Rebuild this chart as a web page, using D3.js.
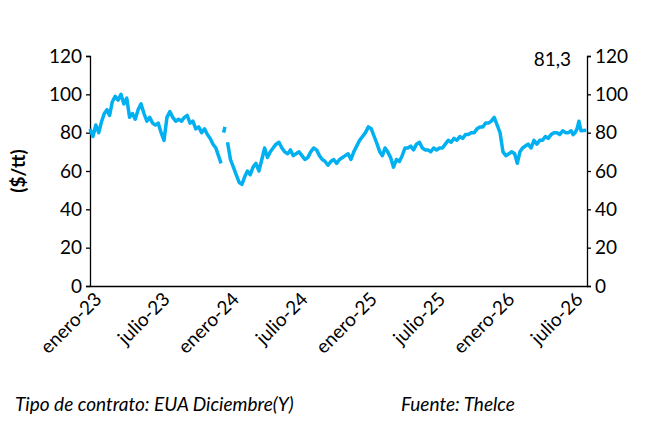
<!DOCTYPE html><html><head><meta charset="utf-8">
<script src="https://cdn.jsdelivr.net/npm/d3@7"></script>
<style>body{margin:0;background:#fff}text{font-family:Lato,"Open Sans",sans-serif}</style></head><body>
<svg id="c" width="656" height="424"></svg>
<script>
const months=["2023-01","2023-02","2023-03","2023-04","2023-05","2023-06","2023-07","2023-08","2023-09","2023-10","2023-11","2023-12",
"2024-01","2024-02","2024-03","2024-04","2024-05","2024-06","2024-07","2024-08","2024-09","2024-10","2024-11","2024-12",
"2025-01","2025-02","2025-03","2025-04","2025-05","2025-06","2025-07","2025-08","2025-09","2025-10","2025-11","2025-12",
"2026-01","2026-02","2026-03","2026-04","2026-05","2026-06","2026-07","2026-08"];
const values=[
[82,78,84,80],[86,90,92,89],[96,99,97,100],[95,98,88,90],[87,92,95,90],[86,88,85,84],
[85,80,76,88],[91,88,86,87],[86,88,89,85],[86,82,83,80],[82,79,77,74],[72,70,68,66,64,null,80,83,null],
[75,66,62,58],[54,53,57,60],[58,62,64,60],[66,72,67,70],[72,74,75,72],[70,69,71,68],
[69,70,68,66],[67,70,72,71],[68,66,65,63],[65,66,64,66],[67,68,69,66],[70,73,76,78],
[80,83,82,78],[74,70,68,72],[70,67,62,66],[65,68,72,72],[73,71,74,75],[72,71,71,70],
[72,71,72,72],[74,76,75,77],[76,78,77,79],[79,80,80,82],[83,83,85,85],[86,88,84,80],
[70,68,69,70],[69,64,70,72],[73,74,72,76],[74,76,76,78],[77,79,80,80],[79,81,80,80],
[81,79,80,82,86,81],[81.3]];
const yTicks=[0,20,40,60,80,100,120];
const xTickMonths=["2023-01","2023-07","2024-01","2024-07","2025-01","2025-07","2026-01","2026-07"];
const xTickLabels=["enero-23","julio-23","enero-24","julio-24","enero-25","julio-25","enero-26","julio-26"];
const lastLabel="81,3";

const pm=d3.timeParse("%Y-%m");
const data=[];
months.forEach((m,i)=>{const s=pm(m),e=d3.timeMonth.offset(s,1),n=values[i].length;
 values[i].forEach((v,j)=>{const t=new Date(+s+(e-s)*(i==months.length-1?0.3:j/n));data.push({t,v});});});
const svg=d3.select("#c");
const x=d3.scaleTime().domain([pm("2023-01"),new Date(2026,7,12)]).range([90,587]);
const y=d3.scaleLinear().domain([0,120]).range([286,56]);
const fs="19px";
const ga=svg.append("g").attr("transform","translate(90,0)").call(d3.axisLeft(y).tickValues(yTicks).tickSize(4).tickPadding(4));
const gb=svg.append("g").attr("transform","translate(587,0)").call(d3.axisRight(y).tickValues(yTicks).tickSize(4).tickPadding(4));
const gx=svg.append("g").attr("transform","translate(0,286)").call(d3.axisBottom(x).tickValues(xTickMonths.map(pm)).tickFormat((d,i)=>xTickLabels[i]).tickSize(0));
[ga,gb,gx].forEach(g=>{g.selectAll("path,line").attr("stroke","#000").attr("stroke-width",1.3);g.selectAll("text").attr("font-size",fs).attr("fill","#000").attr("font-family","Lato");});
gx.selectAll("text").attr("text-anchor","end").attr("transform","translate(2,4) rotate(-45)").attr("dy","0.35em").attr("y",8);
svg.append("path").datum(data).attr("fill","none").attr("stroke","#00B0F0").attr("stroke-width",3.5).attr("stroke-linejoin","round")
 .attr("d",d3.line().defined(d=>d.v!=null).x(d=>x(d.t)).y(d=>y(d.v)));
svg.append("text").attr("x",571).attr("y",66).attr("text-anchor","end").attr("font-size",fs).text(lastLabel);
svg.append("text").attr("transform","translate(25,171) rotate(-90)").attr("text-anchor","middle").attr("font-size",fs).attr("font-weight","bold").text("($/tt)");
svg.append("text").attr("x",15).attr("y",411).attr("font-size",fs).attr("font-style","italic").text("Tipo de contrato: EUA Diciembre(Y)");
svg.append("text").attr("x",401).attr("y",411).attr("font-size",fs).attr("font-style","italic").text("Fuente: Thelce");
</script></body></html>
